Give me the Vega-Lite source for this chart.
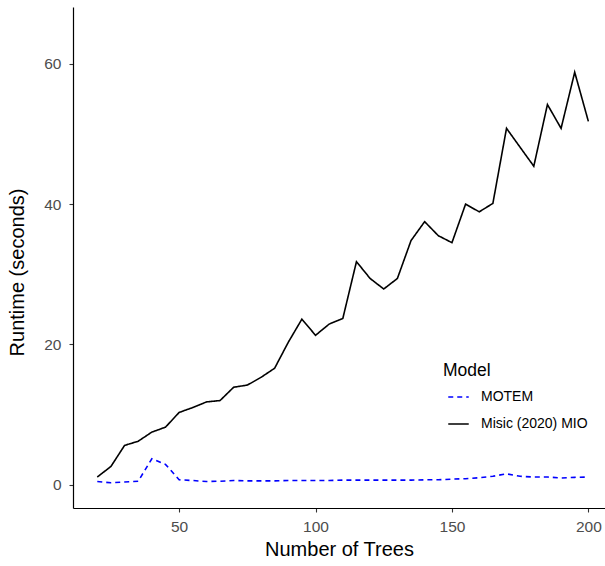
{
  "$schema": "https://vega.github.io/schema/vega-lite/v6.json",
  "width": 532,
  "height": 501,
  "autosize": {"type": "none"},
  "padding": {"left": 73, "top": 7, "right": 0, "bottom": 58},
  "background": "white",
  "config": {
    "view": {"stroke": null},
    "font": "Liberation Sans",
    "axis": {
      "grid": false,
      "domainColor": "black",
      "domainWidth": 1.2,
      "tickColor": "#333333",
      "tickSize": 4,
      "tickWidth": 1.1,
      "labelColor": "#4d4d4d",
      "labelFontSize": 15.5,
      "titleColor": "black",
      "titleFontSize": 20,
      "titleFontWeight": "normal"
    }
  },
  "data": {
    "values": [
      {"trees": 20, "model": "MOTEM", "runtime": 0.45},
      {"trees": 25, "model": "MOTEM", "runtime": 0.28},
      {"trees": 30, "model": "MOTEM", "runtime": 0.38},
      {"trees": 35, "model": "MOTEM", "runtime": 0.5},
      {"trees": 40, "model": "MOTEM", "runtime": 3.7},
      {"trees": 45, "model": "MOTEM", "runtime": 2.9},
      {"trees": 50, "model": "MOTEM", "runtime": 0.7},
      {"trees": 55, "model": "MOTEM", "runtime": 0.6},
      {"trees": 60, "model": "MOTEM", "runtime": 0.45},
      {"trees": 65, "model": "MOTEM", "runtime": 0.5},
      {"trees": 70, "model": "MOTEM", "runtime": 0.6},
      {"trees": 75, "model": "MOTEM", "runtime": 0.55},
      {"trees": 80, "model": "MOTEM", "runtime": 0.55},
      {"trees": 85, "model": "MOTEM", "runtime": 0.55},
      {"trees": 90, "model": "MOTEM", "runtime": 0.6},
      {"trees": 95, "model": "MOTEM", "runtime": 0.6},
      {"trees": 100, "model": "MOTEM", "runtime": 0.6},
      {"trees": 105, "model": "MOTEM", "runtime": 0.6},
      {"trees": 110, "model": "MOTEM", "runtime": 0.65},
      {"trees": 115, "model": "MOTEM", "runtime": 0.65},
      {"trees": 120, "model": "MOTEM", "runtime": 0.65},
      {"trees": 125, "model": "MOTEM", "runtime": 0.65},
      {"trees": 130, "model": "MOTEM", "runtime": 0.65},
      {"trees": 135, "model": "MOTEM", "runtime": 0.65},
      {"trees": 140, "model": "MOTEM", "runtime": 0.7},
      {"trees": 145, "model": "MOTEM", "runtime": 0.7},
      {"trees": 150, "model": "MOTEM", "runtime": 0.8},
      {"trees": 155, "model": "MOTEM", "runtime": 0.85},
      {"trees": 160, "model": "MOTEM", "runtime": 1.0},
      {"trees": 165, "model": "MOTEM", "runtime": 1.2},
      {"trees": 170, "model": "MOTEM", "runtime": 1.55},
      {"trees": 175, "model": "MOTEM", "runtime": 1.2},
      {"trees": 180, "model": "MOTEM", "runtime": 1.1},
      {"trees": 185, "model": "MOTEM", "runtime": 1.1},
      {"trees": 190, "model": "MOTEM", "runtime": 0.95},
      {"trees": 195, "model": "MOTEM", "runtime": 1.05},
      {"trees": 200, "model": "MOTEM", "runtime": 1.1},
      {"trees": 20, "model": "Misic (2020) MIO", "runtime": 1.1},
      {"trees": 25, "model": "Misic (2020) MIO", "runtime": 2.6},
      {"trees": 30, "model": "Misic (2020) MIO", "runtime": 5.6},
      {"trees": 35, "model": "Misic (2020) MIO", "runtime": 6.2},
      {"trees": 40, "model": "Misic (2020) MIO", "runtime": 7.5},
      {"trees": 45, "model": "Misic (2020) MIO", "runtime": 8.2},
      {"trees": 50, "model": "Misic (2020) MIO", "runtime": 10.3},
      {"trees": 55, "model": "Misic (2020) MIO", "runtime": 11.0},
      {"trees": 60, "model": "Misic (2020) MIO", "runtime": 11.8},
      {"trees": 65, "model": "Misic (2020) MIO", "runtime": 12.0},
      {"trees": 70, "model": "Misic (2020) MIO", "runtime": 13.9},
      {"trees": 75, "model": "Misic (2020) MIO", "runtime": 14.2},
      {"trees": 80, "model": "Misic (2020) MIO", "runtime": 15.3},
      {"trees": 85, "model": "Misic (2020) MIO", "runtime": 16.6},
      {"trees": 90, "model": "Misic (2020) MIO", "runtime": 20.3},
      {"trees": 95, "model": "Misic (2020) MIO", "runtime": 23.6},
      {"trees": 100, "model": "Misic (2020) MIO", "runtime": 21.3},
      {"trees": 105, "model": "Misic (2020) MIO", "runtime": 22.9},
      {"trees": 110, "model": "Misic (2020) MIO", "runtime": 23.7},
      {"trees": 115, "model": "Misic (2020) MIO", "runtime": 31.8},
      {"trees": 120, "model": "Misic (2020) MIO", "runtime": 29.4},
      {"trees": 125, "model": "Misic (2020) MIO", "runtime": 27.9},
      {"trees": 130, "model": "Misic (2020) MIO", "runtime": 29.4},
      {"trees": 135, "model": "Misic (2020) MIO", "runtime": 34.8},
      {"trees": 140, "model": "Misic (2020) MIO", "runtime": 37.5},
      {"trees": 145, "model": "Misic (2020) MIO", "runtime": 35.5},
      {"trees": 150, "model": "Misic (2020) MIO", "runtime": 34.5},
      {"trees": 155, "model": "Misic (2020) MIO", "runtime": 40.0},
      {"trees": 160, "model": "Misic (2020) MIO", "runtime": 38.9},
      {"trees": 165, "model": "Misic (2020) MIO", "runtime": 40.1},
      {"trees": 170, "model": "Misic (2020) MIO", "runtime": 50.8},
      {"trees": 175, "model": "Misic (2020) MIO", "runtime": 48.1},
      {"trees": 180, "model": "Misic (2020) MIO", "runtime": 45.4},
      {"trees": 185, "model": "Misic (2020) MIO", "runtime": 54.2},
      {"trees": 190, "model": "Misic (2020) MIO", "runtime": 50.8},
      {"trees": 195, "model": "Misic (2020) MIO", "runtime": 58.8},
      {"trees": 200, "model": "Misic (2020) MIO", "runtime": 51.8}
    ]
  },
  "mark": {"type": "line", "strokeWidth": 1.6, "clip": true},
  "encoding": {
    "x": {
      "field": "trees",
      "type": "quantitative",
      "title": "Number of Trees",
      "scale": {"domain": [11.1, 206.1], "nice": false, "zero": false},
      "axis": {"values": [50, 100, 150, 200], "labelPadding": 7, "titlePadding": 5}
    },
    "y": {
      "field": "runtime",
      "type": "quantitative",
      "title": "Runtime (seconds)",
      "scale": {"domain": [-3.32, 68.1], "nice": false, "zero": false},
      "axis": {"values": [0, 20, 40, 60], "labelPadding": 8, "titlePadding": 16, "titleY": 265}
    },
    "color": {
      "field": "model",
      "type": "nominal",
      "scale": {"domain": ["MOTEM", "Misic (2020) MIO"], "range": ["#0000ff", "#000000"]},
      "legend": {
        "title": "Model",
        "orient": "none",
        "legendX": 370,
        "legendY": 355,
        "titleFontSize": 17.5,
        "titleFontWeight": "normal",
        "titleColor": "black",
        "titlePadding": 6,
        "labelFontSize": 14,
        "labelColor": "black",
        "labelOffset": 11,
        "symbolType": "stroke",
        "symbolSize": 420,
        "symbolOffset": 4,
        "symbolStrokeWidth": 1.6,
        "rowPadding": 8
      }
    },
    "strokeDash": {
      "field": "model",
      "type": "nominal",
      "scale": {"domain": ["MOTEM", "Misic (2020) MIO"], "range": [[5, 4], [1, 0]]},
      "legend": null
    }
  }
}
